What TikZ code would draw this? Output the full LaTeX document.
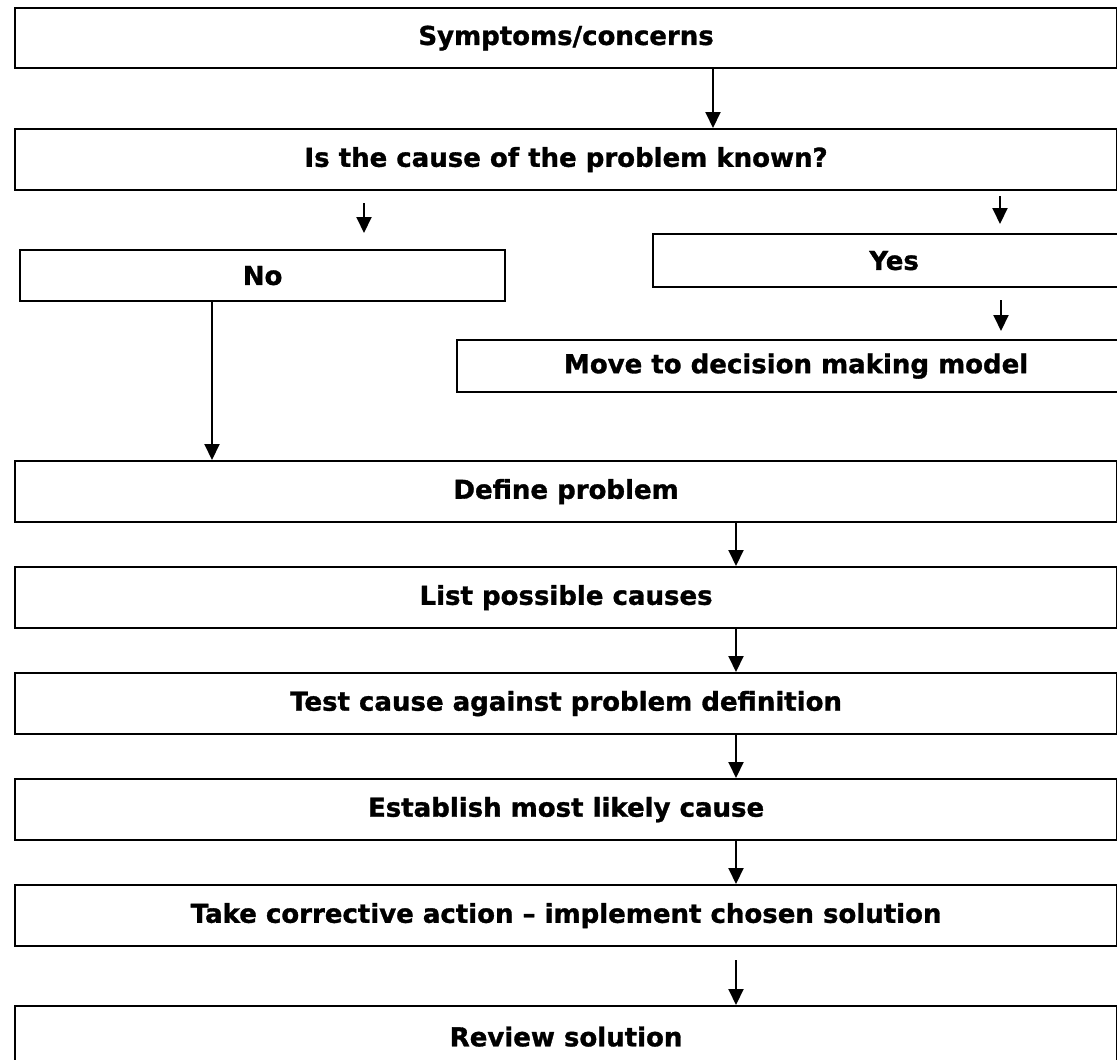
\documentclass[tikz,border=0pt]{standalone}
\usepackage{fontspec}
\setmainfont{DejaVu Sans}[BoldFeatures={FakeBold=1.2}]
\usetikzlibrary{arrows.meta}
\tikzset{
  flowbox/.style={draw, line width=2.2pt, rectangle, anchor=north west, inner sep=0pt,
    font=\fontsize{26}{30}\selectfont\bfseries, text=black},
  arr/.style={line width=2pt, -{Triangle[length=16pt,width=15pt]}},
}
\newcommand{\flowbox}[6]{% name, left, top, right, bottom, text
  \node[flowbox, minimum width={(#4-#2)*1pt}, minimum height={(#5-#3)*1pt}]
    (#1) at (#2,#3) {#6};}
\begin{document}
\begin{tikzpicture}[x=1pt,y=-1pt]
  \useasboundingbox (0,0) rectangle (1117,1060);
  \clip (0,0) rectangle (1117,1060);
  % main column of steps
  \flowbox{symp}{14}{7}{1116}{67}{Symptoms/concerns}
  \flowbox{known}{14}{128}{1116}{189}{Is the cause of the problem known?}
  \flowbox{no}{19}{249}{504}{300}{No}
  \flowbox{yes}{652}{233}{1134}{286}{Yes}
  \flowbox{move}{456}{339}{1134}{391}{Move to decision making model}
  \flowbox{define}{14}{460}{1116}{521}{Define problem}
  \flowbox{list}{14}{566}{1116}{627}{List possible causes}
  \flowbox{test}{14}{672}{1116}{733}{Test cause against problem definition}
  \flowbox{estab}{14}{778}{1116}{839}{Establish most likely cause}
  \flowbox{take}{14}{884}{1116}{945}{Take corrective action – implement chosen solution}
  \flowbox{review}{14}{1005}{1116}{1066}{Review solution}
  % free ends of the short arrows
  \coordinate (noS) at (364,203);
  \coordinate (yesS) at (1000,196);
  \coordinate (noT) at (364,233);
  \coordinate (yesT) at (1000,224);
  \coordinate (moveS) at (1001,300);
  \coordinate (moveT) at (1001,331);
  \coordinate (revS) at (736,960);
  % connectors
  \draw[arr] (symp.south -| 713,0) -- (known.north -| 713,0);
  \draw[arr] (noS) -- (noT);
  \draw[arr] (yesS) -- (yesT);
  \draw[arr] (moveS) -- (moveT);
  \draw[arr] (no.south -| 212,0) -- (define.north -| 212,0);
  \draw[arr] (define.south -| 736,0) -- (list.north -| 736,0);
  \draw[arr] (list.south -| 736,0) -- (test.north -| 736,0);
  \draw[arr] (test.south -| 736,0) -- (estab.north -| 736,0);
  \draw[arr] (estab.south -| 736,0) -- (take.north -| 736,0);
  \draw[arr] (revS) -- (review.north -| 736,0);
\end{tikzpicture}
\end{document}
